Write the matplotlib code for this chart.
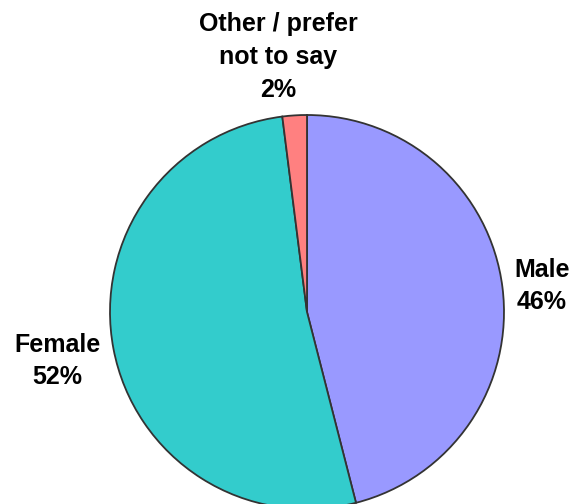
import matplotlib
matplotlib.use("Agg")
import matplotlib.pyplot as plt

categories = ["Male", "Female", "Other / prefer\nnot to say"]
shares = [46, 52, 2]
colors = ["#9999FF", "#33CCCC", "#FF8080"]

W, H = 574, 504
fig = plt.figure(figsize=(W / 100, H / 100), dpi=100)
ax = fig.add_axes([0, 0, 1, 1])

cx, cy, r = 307, H - 312, 197
ax.pie(shares, colors=colors, startangle=90, counterclock=False,
       center=(cx, cy), radius=r, frame=True,
       wedgeprops=dict(edgecolor="#333333", linewidth=1.3))
ax.set_xlim(0, W)
ax.set_ylim(0, H)
ax.set_aspect("equal")
ax.axis("off")

label_pos = [(542, H - 286), (57, H - 361), (278, H - 57)]
for name, val, (x, y) in zip(categories, shares, label_pos):
    ax.text(x, y, f"{name}\n{val}%", ha="center", va="center",
            fontsize=18, fontweight="bold", family="Liberation Sans",
            linespacing=1.45)

fig.savefig("out.png", dpi=100)
